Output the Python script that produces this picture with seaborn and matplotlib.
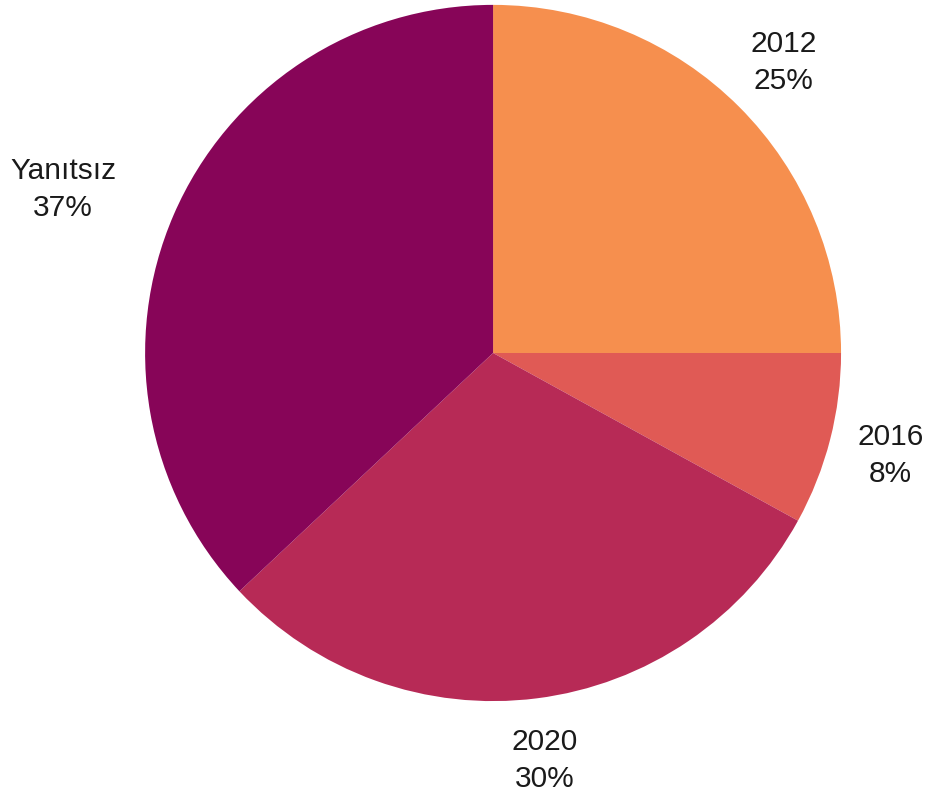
import matplotlib.pyplot as plt
import numpy as np
import seaborn as sns

# Pie data (clockwise from 12 o'clock)
categories = ["2012", "2016", "2020", "Yanıtsız"]
shares = [25, 8, 30, 37]
colors = ["#F68F4E", "#E05A55", "#B72A56", "#870558"]

sns.set_theme(style="white")
plt.rcParams["font.family"] = ["Liberation Sans", "DejaVu Sans"]

fig = plt.figure(figsize=(9.27, 8.01), dpi=100)
ax = fig.add_axes([0, 0, 1, 1])

wedges, _ = ax.pie(shares, colors=colors, startangle=90, counterclock=False,
                   radius=1.0, wedgeprops=dict(linewidth=0))

# labels outside each wedge, derived from the wedge angles
for w, name, val in zip(wedges, categories, shares):
    mid = np.deg2rad((w.theta1 + w.theta2) / 2)
    x, y = 1.18 * np.cos(mid), 1.18 * np.sin(mid)
    ha = "center" if x >= 0 else "right"
    ax.text(x, y, f"{name}\n{val}%", ha=ha, va="center", fontsize=21.5,
            linespacing=1.4, multialignment="center", color="#1a1a1a")

ax.set_xlim(-1.417, 1.247)
ax.set_ylim(-1.287, 1.014)
ax.set_aspect("auto")
ax.axis("off")

fig.savefig("out.png", dpi=100)
